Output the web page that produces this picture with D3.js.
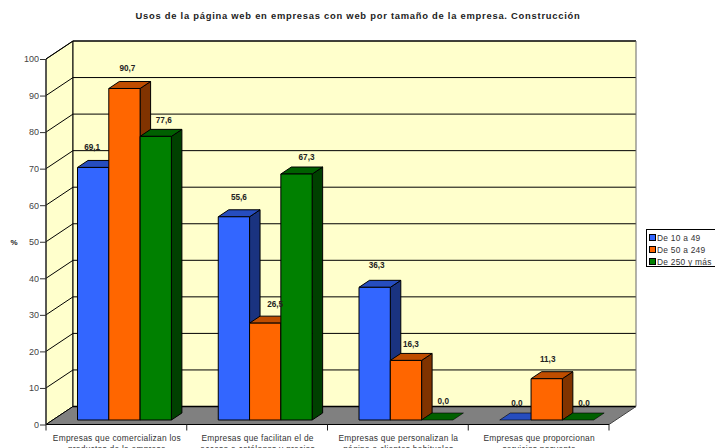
<!DOCTYPE html>
<html><head><meta charset="utf-8">
<script src="https://cdnjs.cloudflare.com/ajax/libs/d3/7.8.5/d3.min.js"></script>
<style>html,body{margin:0;padding:0;background:#fff;overflow:hidden}svg{display:block}text{font-family:"Liberation Sans",Arial,sans-serif}</style>
</head><body><svg id="c" width="715" height="448"></svg>
<script>
const title = "Usos de la página web en empresas con web por tamaño de la empresa. Construcción";
const categories = [
  ["Empresas que comercializan los","productos de la empresa"],
  ["Empresas que facilitan el de","acceso a catálogos y precios"],
  ["Empresas que personalizan la","página a clientes habituales"],
  ["Empresas que proporcionan","servicios posventa"]
];
const seriesNames = ["De 10 a 49","De 50 a 249","De 250 y más"];
const small = [69.1,55.6,36.3,0.0];
const medium = [90.7,26.5,16.3,11.3];
const large = [77.6,67.3,0.0,0.0];
const yTicks = [0,10,20,30,40,50,60,70,80,90,100];

const allSeries = [small,medium,large];
const front = ["#3366FF","#FF6600","#008000"];
const topC  = ["#264DBF","#BF4D00","#006000"];
const side  = ["#1A3380","#803300","#004000"];

const svg = d3.select("#c");
const depth = {x:27,y:-18};
const barDepth = {x:10.5,y:-7};
const barFront = {x:6.5,y:-4.5};
const y = d3.scaleLinear().domain([0,100]).range([424.5,59]);
const x0 = d3.scaleBand().domain(d3.range(4)).range([46,609]);
const bw = 31.3, groupPad = 25;
const barX = (g,s)=>x0(g)+barFront.x+groupPad+s*bw;
const fmt = v=>d3.format(".1f")(v).replace(".",",");
const pts = a=>a.map(p=>p.join(",")).join(" ");
const ink="#000";

// walls & floor
const x1=46,x2=609,y0=y(0),yT=y(100);
svg.append("polygon").attr("points",pts([[x1,y0],[x1+depth.x,y0+depth.y],[x1+depth.x,yT+depth.y],[x1,yT]])).attr("fill","#FFFFCC").attr("stroke",ink).attr("stroke-width",1);
svg.append("rect").attr("x",x1+depth.x).attr("y",yT+depth.y).attr("width",x2-x1).attr("height",y0-yT).attr("fill","#FFFFCC");
svg.append("polygon").attr("points",pts([[x1,y0],[x2,y0],[x2+depth.x,y0+depth.y],[x1+depth.x,y0+depth.y]])).attr("fill","#808080");

// gridlines
yTicks.slice(1).forEach(t=>{
  svg.append("line").attr("x1",x1).attr("y1",y(t)).attr("x2",x1+depth.x).attr("y2",y(t)+depth.y).attr("stroke",ink).attr("stroke-width",1);
  svg.append("line").attr("x1",x1+depth.x).attr("y1",y(t)+depth.y).attr("x2",x2+depth.x).attr("y2",y(t)+depth.y).attr("stroke",ink).attr("stroke-width",t==100?1.6:1);
});
svg.append("line").attr("x1",x2+depth.x).attr("y1",yT+depth.y).attr("x2",x2+depth.x).attr("y2",y0+depth.y).attr("stroke","#666").attr("stroke-width",1);
svg.append("line").attr("x1",x1+depth.x).attr("y1",yT+depth.y).attr("x2",x1+depth.x).attr("y2",y0+depth.y).attr("stroke",ink).attr("stroke-width",1);
svg.append("line").attr("x1",x1+depth.x).attr("y1",y0+depth.y).attr("x2",x2+depth.x).attr("y2",y0+depth.y).attr("stroke",ink).attr("stroke-width",1.5);
svg.append("line").attr("x1",x1).attr("y1",y0).attr("x2",x1+depth.x).attr("y2",y0+depth.y).attr("stroke",ink);
svg.append("line").attr("x1",x2).attr("y1",y0).attr("x2",x2+depth.x).attr("y2",y0+depth.y).attr("stroke","#444");

// bars
const yb = v=>y(v)+barFront.y;
for(let g=0;g<4;g++){
  for(let s=0;s<3;s++){
    const v=allSeries[s][g], X=barX(g,s), Y=yb(v), B=yb(0);
    const G=svg.append("g").attr("stroke",ink).attr("stroke-width",1).attr("stroke-linejoin","round");
    if(v>0){
      G.append("polygon").attr("points",pts([[X+bw,Y],[X+bw+barDepth.x,Y+barDepth.y],[X+bw+barDepth.x,B+barDepth.y],[X+bw,B]])).attr("fill",side[s]);
    }
    G.append("polygon").attr("points",pts([[X,Y],[X+bw,Y],[X+bw+barDepth.x,Y+barDepth.y],[X+barDepth.x,Y+barDepth.y]])).attr("fill",topC[s]).attr("stroke-width",v>0?1:0.6);
    if(v>0) G.append("rect").attr("x",X).attr("y",Y).attr("width",bw).attr("height",B-Y).attr("fill",front[s]);
  }
}

// front axis lines
svg.append("line").attr("x1",x1).attr("y1",y0).attr("x2",x2).attr("y2",y0).attr("stroke",ink).attr("stroke-width",1.2);
svg.append("line").attr("x1",x1).attr("y1",y0).attr("x2",x1).attr("y2",yT).attr("stroke","#333").attr("stroke-width",1);

// y axis
const ya=svg.append("g").attr("transform",`translate(${x1},0)`).call(d3.axisLeft(y).tickValues(yTicks).tickSize(6).tickPadding(1).tickFormat(d3.format("d")));
ya.select(".domain").remove();
ya.selectAll("line").attr("stroke","#333");
ya.selectAll("text").attr("font-size",9).attr("fill","#444").style("font-family",'"Liberation Sans",Arial,sans-serif');

// category ticks and labels
d3.range(5).forEach(i=>{
  const X=i<4?x0(i):x2;
  svg.append("line").attr("x1",X).attr("y1",y0).attr("x2",X).attr("y2",y0+6).attr("stroke","#222");
});
categories.forEach((c,g)=>{
  c.forEach((l,i)=>{
    svg.append("text").attr("x",x0(g)+x0.bandwidth()/2+0.5).attr("y",441+i*11).attr("text-anchor","middle")
      .attr("font-size",8.4).attr("letter-spacing",0.25).attr("fill","#333").text(l);
  });
});

// value labels
const labelShift = [[[-1,-17],[5,-17],[2,-19],[1.5,-14]],[[3,-17],[10,-16],[5,-13],[1,-17]],[[8,-13],[10,-14],[6,-16],[6,-14]]];
allSeries.forEach((vals,s)=>vals.forEach((v,g)=>{
  svg.append("text").attr("x",barX(g,s)+bw/2+labelShift[s][g][0]).attr("y",yb(v)+labelShift[s][g][1])
    .attr("text-anchor","middle").attr("font-size",8.2).attr("font-weight","bold").attr("fill","#222").text(fmt(v));
}));

// title, y label
svg.append("text").attr("x",358).attr("y",19).attr("text-anchor","middle").attr("font-size",9.4).attr("font-weight","bold").attr("letter-spacing",0.75).attr("fill","#222").text(title);
svg.append("text").attr("x",14).attr("y",245).attr("text-anchor","middle").attr("font-size",8).attr("font-weight","bold").attr("fill","#222").text("%");

// legend
const lg=svg.append("g");
lg.append("rect").attr("x",646.5).attr("y",229.5).attr("width",80).attr("height",37).attr("fill","#fff").attr("stroke","#000");
seriesNames.forEach((n,i)=>{
  lg.append("rect").attr("x",649.5).attr("y",234.5+i*12).attr("width",6).attr("height",6).attr("fill",front[i]).attr("stroke","#000");
  lg.append("text").attr("x",657).attr("y",241+i*12).attr("font-size",8.4).attr("letter-spacing",0.25).attr("fill","#333").text(n);
});
</script></body></html>
